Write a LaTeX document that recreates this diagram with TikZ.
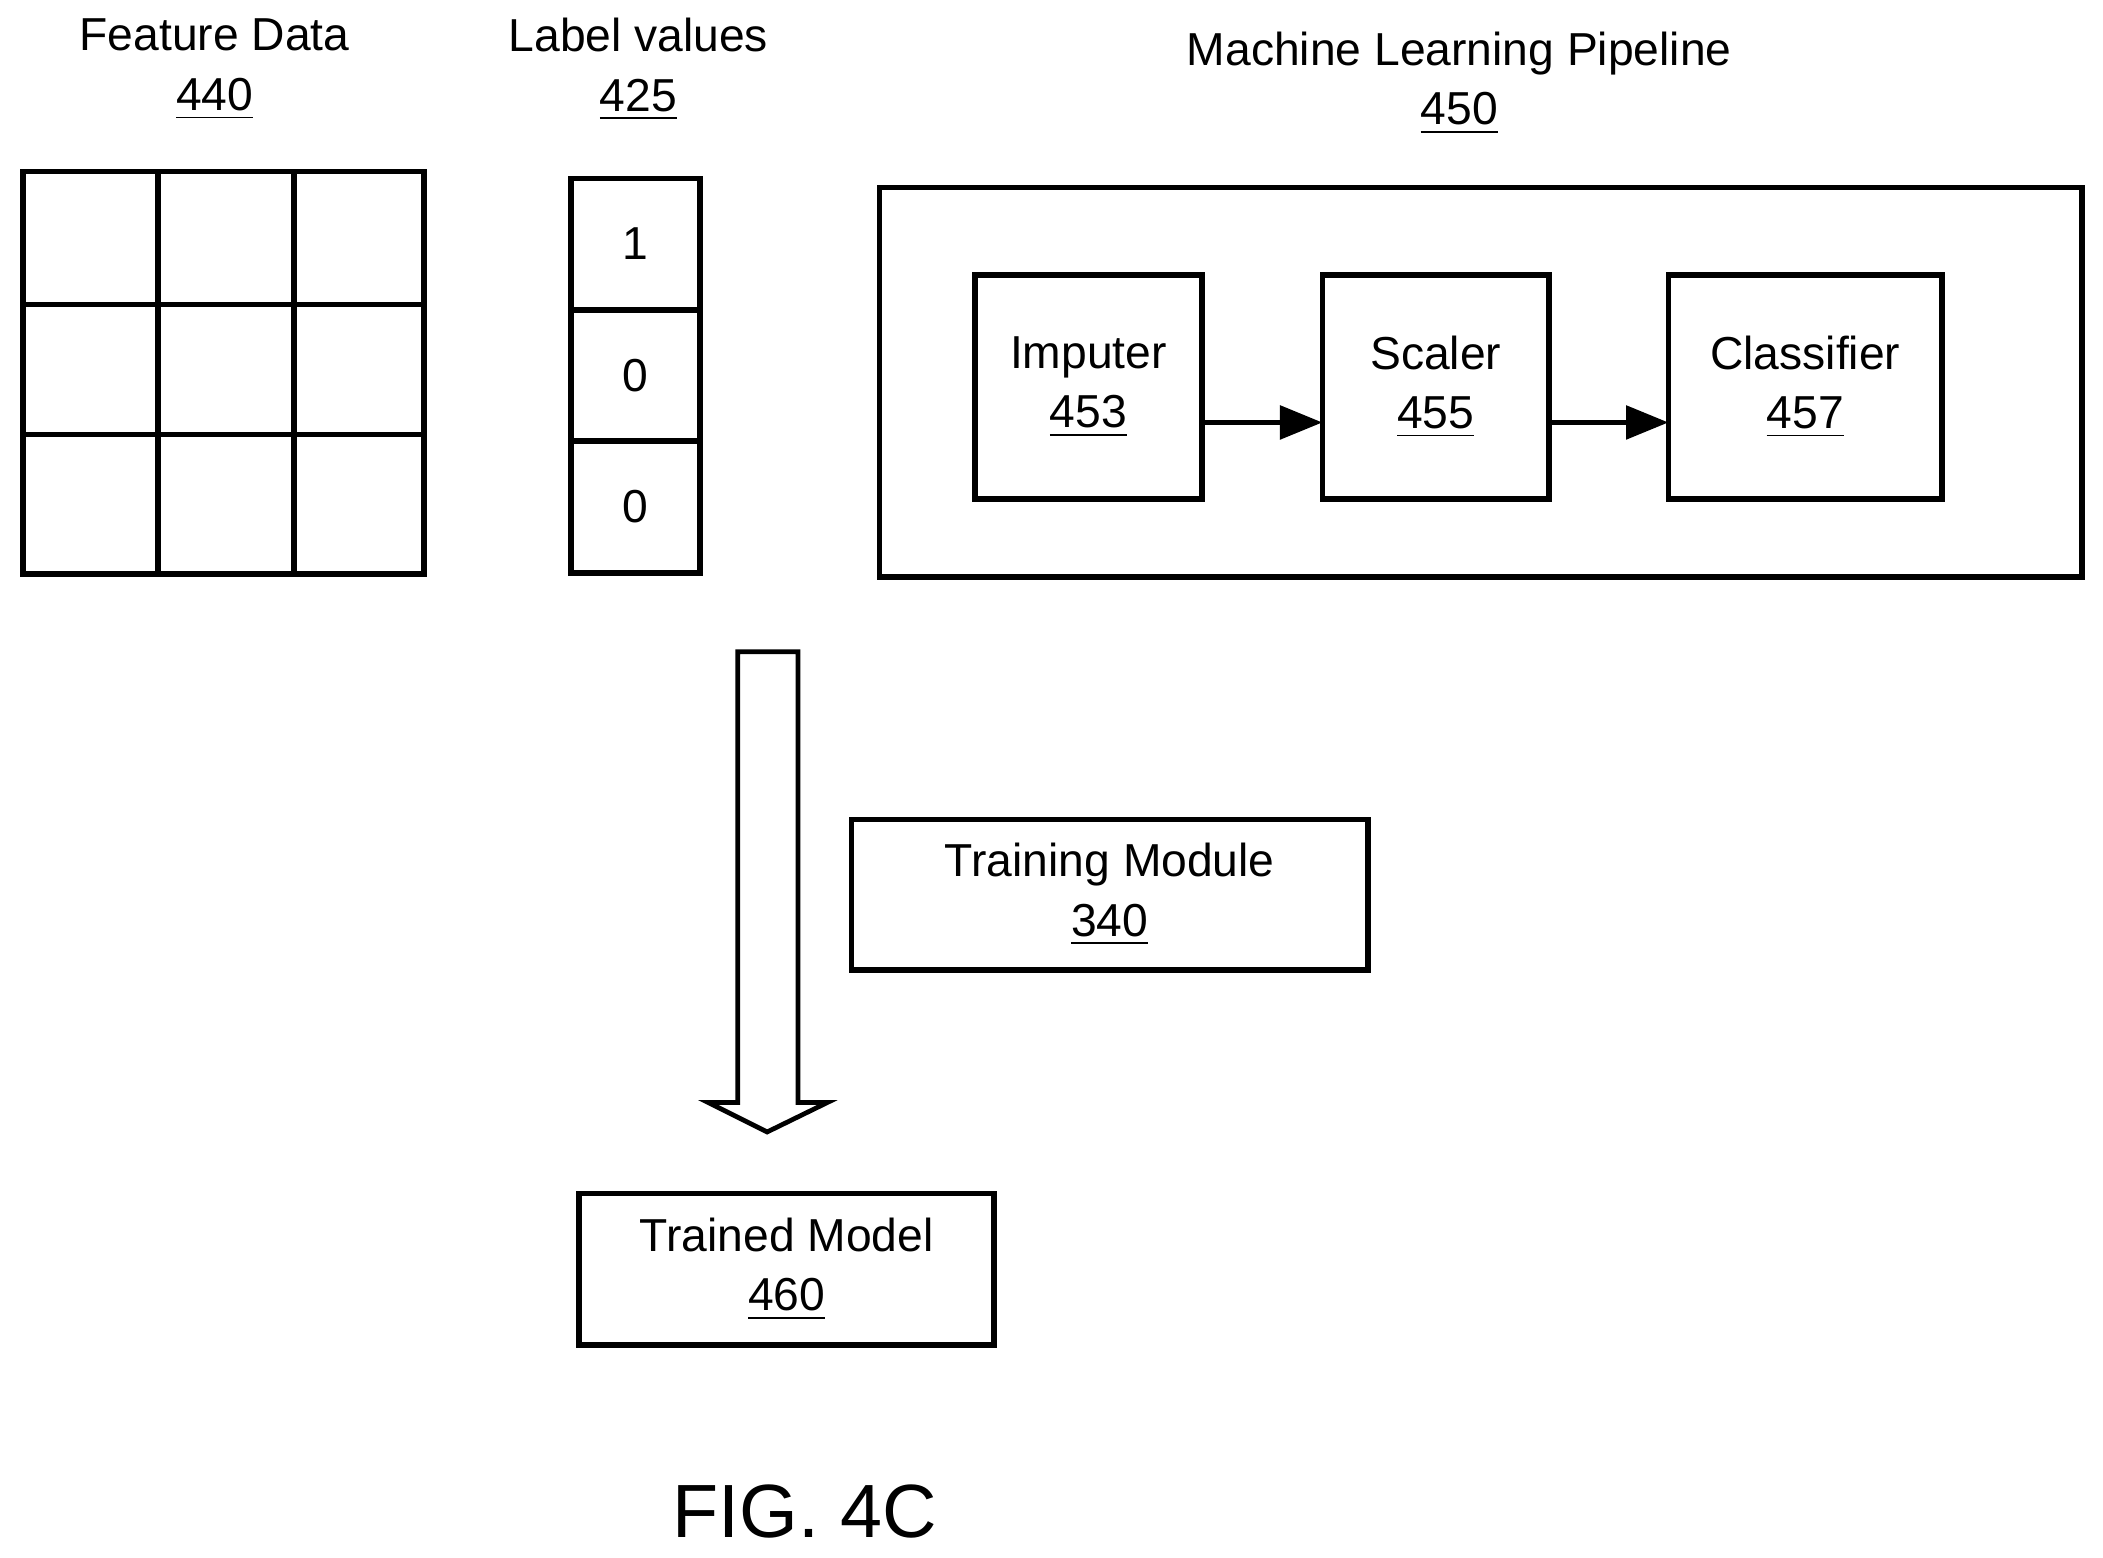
\documentclass[tikz,border=0pt]{standalone}
\usepackage{fontspec}
\setmainfont{Liberation Sans}
\usetikzlibrary{arrows.meta, positioning, fit}

\begin{document}
\begin{tikzpicture}[x=0.01cm, y=-0.01cm,
        box/.style={draw, line width=1.2pt, inner sep=0pt, align=center},
        cell/.style={box, minimum width=0.96cm, minimum height=0.98cm},
        edge/.style={-{Triangle[length=9pt, width=7pt]}, line width=1.2pt},
        every node/.style={font=\fontsize{9.8pt}{12.6pt}\selectfont}
    ]
        \useasboundingbox (0,0) rectangle (1568,1161);

        % Feature data grid
        \draw[line width=1.2pt] (17,128) rectangle (316,428);
        \draw[line width=1.2pt] (118,128) -- (118,428) (219,128) -- (219,428)
            (17,227) -- (316,227) (17,324) -- (316,324);
        \node[align=center] (featlbl) at (160,52) {Feature Data\\\underline{440}};

        % Label values
        \node[cell] (v1) at (474,182) {1};
        \node[cell] (v2) at (474,280) {0};
        \node[cell] (v3) at (474,378) {0};
        \node[align=center] (lbllbl) at (476,52) {Label values\\\underline{425}};

        % Pipeline
        \node[box, minimum width=8.96cm, minimum height=2.9cm] (pipe) at (1104,285) {};
        \node[align=center] (pipelbl) at (1088,62) {Machine Learning Pipeline\\\underline{450}};
        \node[box, minimum width=1.69cm, minimum height=1.67cm] (imp) at (811.5,288.5) {Imputer\\\underline{453}};
        \node[box, minimum width=1.69cm, minimum height=1.67cm] (scl) at (1070.5,288.5) {Scaler\\\underline{455}};
        \node[box, minimum width=2.04cm, minimum height=1.67cm] (cls) at (1346,288.5) {Classifier\\\underline{457}};
        \coordinate (a1) at (896,315);
        \coordinate (a2) at (986,315);
        \coordinate (a3) at (1155,315);
        \coordinate (a4) at (1244,315);
        \draw[edge] (a1) -- (a2);
        \draw[edge] (a3) -- (a4);

        % Hollow arrow
        \draw[line width=1pt] (550,486) -- (595,486) -- (595,822) -- (617,822)
            -- (572,844) -- (528,822) -- (550,822) -- cycle;

        \node[box, minimum width=3.85cm, minimum height=1.12cm] (train) at (827.5,667) {Training Module\\\underline{340}};
        \node[box, minimum width=3.09cm, minimum height=1.13cm] (model) at (586.5,946.5) {Trained Model\\\underline{460}};

        \node[font=\fontsize{16pt}{18pt}\selectfont] (fig) at (600,1127) {FIG. 4C};
    \end{tikzpicture}
\end{document}
